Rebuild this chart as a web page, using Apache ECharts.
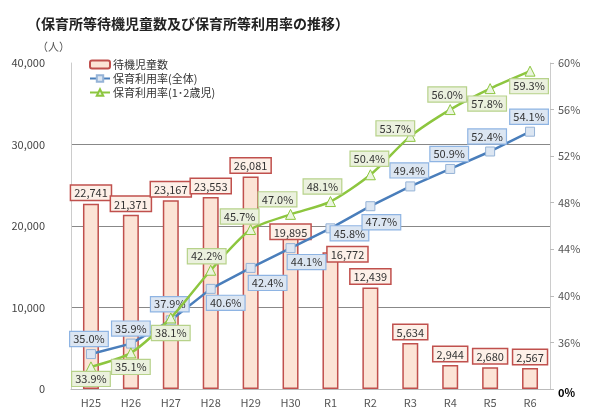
<!DOCTYPE html>
<html>
<head>
<meta charset="utf-8">
<script src="https://cdn.jsdelivr.net/npm/echarts@6/dist/echarts.min.js"></script>
<style>
  html, body { margin: 0; padding: 0; background: #fff; }
  #chart { width: 600px; height: 416px; }
</style>
</head>
<body>
<div id="chart"></div>
<script>
var years = ['H25', 'H26', 'H27', 'H28', 'H29', 'H30', 'R1', 'R2', 'R3', 'R4', 'R5', 'R6'];
var waiting = [22741, 21371, 23167, 23553, 26081, 19895, 16772, 12439, 5634, 2944, 2680, 2567];
var rateAll = [35.0, 35.9, 37.9, 40.6, 42.4, 44.1, 45.8, 47.7, 49.4, 50.9, 52.4, 54.1];
var rate12 = [33.9, 35.1, 38.1, 42.2, 45.7, 47.0, 48.1, 50.4, 53.7, 56.0, 57.8, 59.3];

// label offsets (placement only)
var offBar = [[0, 0], [0, 0], [0, 0], [0, 0], [0, 0], [0, 16], [17, 13], [0, 0], [0, 0], [0, 0], [0, 0], [0, 0]];
var offAll = [[-2, -15], [0, -15], [-1, -16], [15, 14], [17, 15], [16, 14], [19, 5], [11, 16], [-1, -16], [-1, -15], [-3, -15], [-1, -15]];
var off12 = [[0, 12], [0, 14], [0, 15], [-4, -14], [-11, -13], [-13, -15], [-8, -15], [-1, -16], [-15, -8], [-3, -15], [-3, 15], [-1, 15]];

function comma(v) {
    return String(v).replace(/\B(?=(\d{3})+(?!\d))/g, ',');
}

function withLabels(values, offs, box) {
    return values.map(function (v, i) {
        return {
            value: v,
            label: {
                show: true,
                position: 'inside',
                offset: offs[i],
                formatter: v.toFixed(1) + '%',
                fontSize: 11,
                color: '#333',
                backgroundColor: box.bg,
                borderColor: box.border,
                borderWidth: 1.2,
                padding: [2, 3, 1, 3]
            }
        };
    });
}

var chart = echarts.init(document.getElementById('chart'));
var option = {
    animation: false,
    textStyle: { fontFamily: '"Noto Sans CJK JP", "Noto Sans", sans-serif' },
    title: [{
        text: '（保育所等待機児童数及び保育所等利用率の推移）',
        left: 22, top: 12,
        textStyle: { fontSize: 14, fontWeight: 'bold', color: '#222' }
    }, {
        text: '（人）',
        left: 32, top: 36,
        textStyle: { fontSize: 11, fontWeight: 'normal', color: '#555' }
    }],
    legend: {
        orient: 'vertical',
        left: 84, top: 54,
        itemWidth: 20, itemHeight: 8, itemGap: 3,
        textStyle: { fontSize: 11, color: '#333', padding: [0, 0, 0, -2] },
        data: ['待機児童数', '保育利用率(全体)', '保育利用率(1･2歳児)']
    },
    grid: { left: 71, right: 50, top: 63, bottom: 27 },
    xAxis: {
        type: 'category',
        data: years,
        axisTick: { show: false },
        axisLine: { lineStyle: { color: '#bbb' } },
        axisLabel: { color: '#555', fontSize: 11, margin: 8 }
    },
    yAxis: [{
        type: 'value',
        min: 0, max: 40000, interval: 10000,
        axisLine: { show: true, lineStyle: { color: '#ccc' } },
        axisTick: { show: false },
        axisLabel: { color: '#444', fontSize: 11, margin: 26, formatter: function (v) { return comma(v); } },
        splitLine: { show: true, showMinLine: false, showMaxLine: false, lineStyle: { color: '#888', width: 1.2 } }
    }, {
        type: 'value',
        min: 32, max: 60, interval: 4,
        axisLine: { show: true, lineStyle: { color: '#ccc' } },
        axisTick: { show: true, length: 4, lineStyle: { color: '#bbb' } },
        splitLine: { show: false },
        axisLabel: {
            fontSize: 11, color: '#555', margin: 8,
            formatter: function (v) { return v === 32 ? '{z|0%}' : v + '%'; },
            rich: { z: { fontWeight: 'bold', color: '#000', fontSize: 11, padding: [8, 0, 0, 0] } }
        }
    }],
    series: [{
        name: '待機児童数',
        type: 'bar',
        data: waiting.map(function (v, i) {
            return { value: v, label: { offset: offBar[i] } };
        }),
        barWidth: 16,
        itemStyle: { color: '#FCE4D6', borderColor: '#C0504D', borderWidth: 1.5 },
        label: {
            show: true,
            position: 'top',
            distance: 4,
            formatter: function (p) { return comma(p.value); },
            fontSize: 11,
            color: '#333',
            backgroundColor: '#FDF0E8',
            borderColor: '#C0504D',
            borderWidth: 1.5,
            padding: [2, 3, 1, 3]
        },
        z: 1
    }, {
        name: '保育利用率(全体)',
        type: 'line',
        yAxisIndex: 1,
        data: withLabels(rateAll, offAll, { bg: '#DCE6F2', border: '#8EB4E3' }),
        symbol: 'rect',
        symbolSize: 9,
        lineStyle: { color: '#4A7EBB', width: 2.5 },
        itemStyle: { color: '#DCE6F2', borderColor: '#95B3D7', borderWidth: 1 },
        z: 3
    }, {
        name: '保育利用率(1･2歳児)',
        type: 'line',
        yAxisIndex: 1,
        data: withLabels(rate12, off12, { bg: '#EBF1DE', border: '#B7D28A' }),
        symbol: 'triangle',
        symbolSize: 10,
        smooth: 0.25,
        lineStyle: { color: '#8DC63F', width: 2.5 },
        itemStyle: { color: '#EBF5E0', borderColor: '#8DC63F', borderWidth: 1 },
        z: 4
    }]
};
chart.setOption(option);
</script>
</body>
</html>
